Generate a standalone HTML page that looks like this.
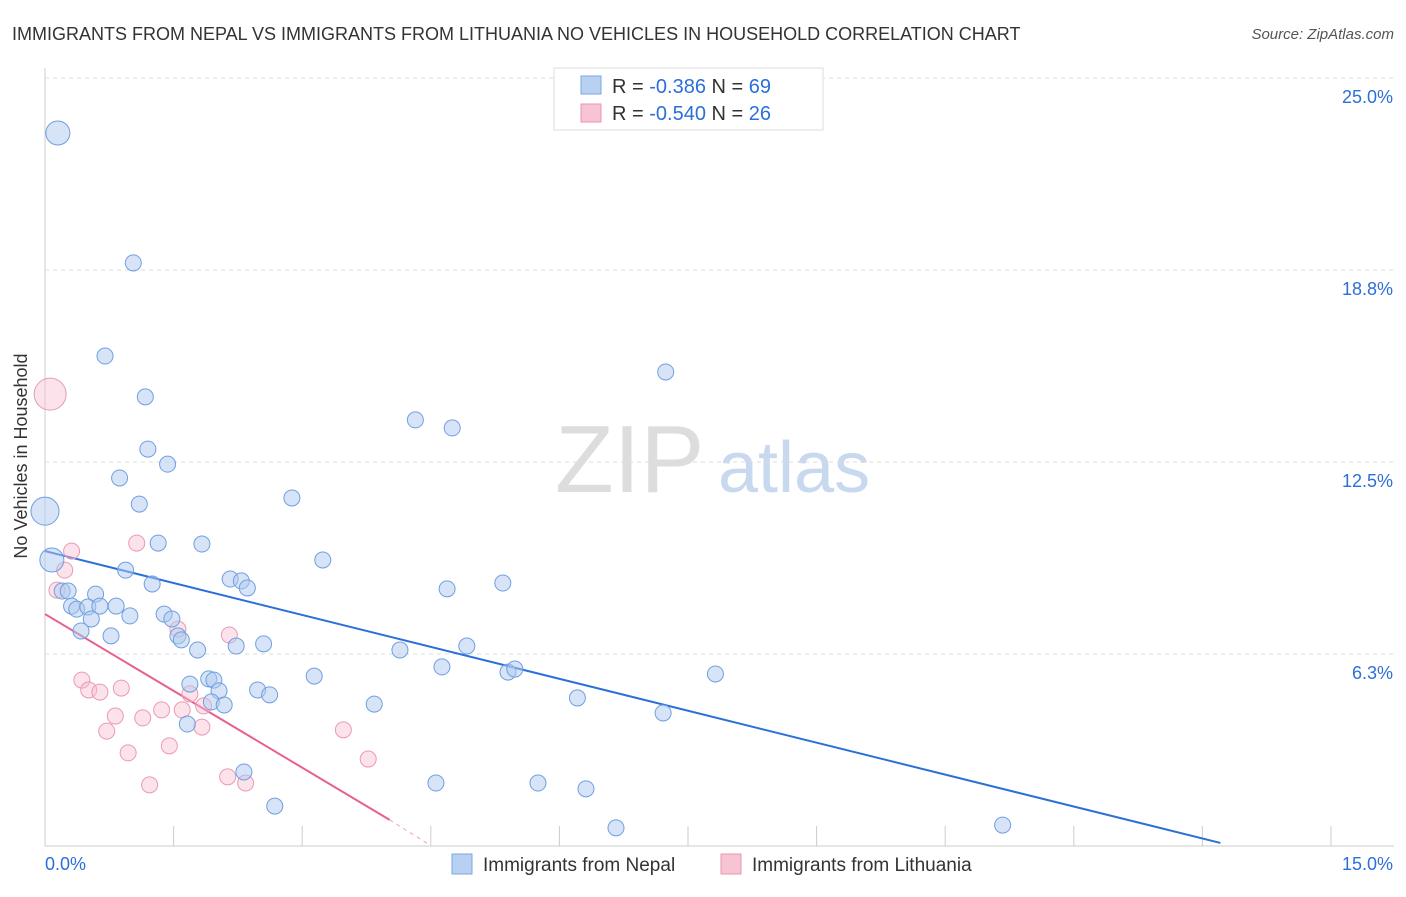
<!DOCTYPE html>
<html><head><meta charset="utf-8"><style>
body{margin:0;background:#fff;font-family:"Liberation Sans",sans-serif;}
svg text{font-family:"Liberation Sans",sans-serif;}
</style></head><body>
<svg id="c" width="1406" height="892">
<text x="12" y="40" font-size="18" fill="#333">IMMIGRANTS FROM NEPAL VS IMMIGRANTS FROM LITHUANIA NO VEHICLES IN HOUSEHOLD CORRELATION CHART</text>
<text x="1394" y="39" font-size="15" fill="#555" font-style="italic" text-anchor="end">Source: ZipAtlas.com</text>
<text x="27" y="456" font-size="18" fill="#333" transform="rotate(-90 27 456)" text-anchor="middle">No Vehicles in Household</text>
<g><text x="555" y="492" font-size="96" fill="#ddd" font-family="Liberation Serif">ZIP</text><text x="718" y="492" font-size="72" fill="#c8d8ee">atlas</text></g>
<g id="grid"></g><g id="ticks"></g><g id="lines"></g><g id="pts"></g>
<g>
<rect x="554" y="68" width="269" height="62" fill="#fff" stroke="#ddd"/>
<rect x="581" y="76" width="20" height="18" fill="#b8d0f2" stroke="#7ea6e0"/>
<rect x="581" y="104" width="20" height="18" fill="#f8c4d4" stroke="#e896b0"/>
<text x="612" y="93" font-size="20" fill="#333">R = <tspan fill="#2c6fd8">-0.386</tspan>   N = <tspan fill="#2c6fd8">69</tspan></text>
<text x="612" y="120" font-size="20" fill="#333">R = <tspan fill="#2c6fd8">-0.540</tspan>   N = <tspan fill="#2c6fd8">26</tspan></text>
</g>
<g>
<rect x="452" y="854" width="20" height="20" fill="#b8d0f2" stroke="#7ea6e0"/>
<text x="483" y="871" font-size="19" fill="#333">Immigrants from Nepal</text>
<rect x="721" y="854" width="20" height="20" fill="#f8c4d4" stroke="#e896b0"/>
<text x="752" y="871" font-size="19" fill="#333">Immigrants from Lithuania</text>
</g>
</svg>
<script>
const yTicks=[25,18.75,12.5,6.25];
const yTickLabels=["25.0%","18.8%","12.5%","6.3%"];
const nepalX=[0.15,1.03,0.70,1.17,1.20,1.43,0.87,1.10,0.0,1.32,1.83,2.88,0.94,1.25,2.16,2.29,2.36,3.24,0.08,0.20,0.27,0.59,0.31,0.37,0.50,0.64,0.83,0.54,0.99,1.39,1.48,0.42,0.77,1.55,1.59,1.78,2.23,2.55,4.32,4.75,7.24,4.69,5.34,4.14,4.92,4.63,5.40,5.48,7.82,3.14,1.69,1.91,1.97,2.03,2.48,2.62,1.94,2.09,3.84,6.21,7.21,1.66,2.32,4.56,5.75,6.31,2.68,6.66,11.17];
const nepalY=[23.21,18.98,15.95,14.62,12.92,12.43,11.98,11.13,10.90,9.86,9.83,11.33,8.98,8.53,8.69,8.63,8.40,9.31,9.31,8.30,8.30,8.20,7.81,7.71,7.78,7.81,7.81,7.39,7.49,7.55,7.39,7.00,6.84,6.84,6.71,6.38,6.51,6.58,13.87,13.61,15.43,8.37,8.56,6.38,6.51,5.83,5.66,5.76,5.60,5.53,5.27,5.44,5.40,5.05,5.08,4.92,4.69,4.59,4.62,4.82,4.33,3.97,2.41,2.05,2.05,1.86,1.30,0.59,0.68];
const nepalSize=[12,8,8,8,8,8,8,8,14,8,8,8,8,8,8,8,8,8,12,8,8,8,8,8,8,8,8,8,8,8,8,8,8,8,8,8,8,8,8,8,8,8,8,8,8,8,8,8,8,8,8,8,8,8,8,8,8,8,8,8,8,8,8,8,8,8,8,8,8];
const lithX=[0.06,0.31,1.07,0.23,0.14,0.43,0.51,0.64,0.89,0.82,0.72,1.14,1.36,1.60,1.55,1.69,1.85,1.83,2.15,1.45,0.97,1.22,2.13,2.34,3.48,3.77];
const lithY=[14.71,9.60,9.86,8.98,8.33,5.40,5.08,5.01,5.14,4.23,3.74,4.17,4.43,4.43,7.06,4.95,4.56,3.87,6.87,3.26,3.03,1.99,2.25,2.05,3.78,2.83];
const lithSize=[16,8,8,8,8,8,8,8,8,8,8,8,8,8,8,8,8,8,8,8,8,8,8,8,8,8];
const nepalTrend=[[0,9.6],[13.71,0.1]];
const lithTrend=[[0,7.55],[4.02,0.85]];
const lithTrendDash=[[4.02,0.85],[4.49,0.03]];
const NS="http://www.w3.org/2000/svg";
const X0=45,X1=1331,XMAX=15,YB=846,YT=78,YMAX=25;
const sx=v=>X0+(X1-X0)*v/XMAX, sy=v=>YB-(YB-YT)*v/YMAX;
function mk(t,a,p){const e=document.createElementNS(NS,t);for(const k in a)e.setAttribute(k,a[k]);document.getElementById(p).appendChild(e);return e;}
let ax=mk('line',{x1:X0,x2:X0,y1:68,y2:YB,stroke:'#ccc'},'grid');


let bx=mk('line',{x1:X0,x2:1394,y1:YB,y2:YB,stroke:'#ccc'},'grid');


yTicks.forEach((v,i)=>{
 let g=mk('line',{x1:X0,x2:1394,y1:sy(v),y2:sy(v),stroke:'#ddd','stroke-dasharray':'4,4'},'grid');
 
 
 let t=mk('text',{x:1393,y:sy(v)+25,'font-size':18,fill:'#2c6fd8','text-anchor':'end'},'ticks');
 t.textContent=yTickLabels[i];
 
 
});
for(let i=1;i<=10;i++){let v=i*1.5;
 let t=mk('line',{x1:sx(v),x2:sx(v),y1:826,y2:YB,stroke:'#ccc'},'ticks');
 
 }
let l0=mk('text',{x:45,y:870,'font-size':18,fill:'#2c6fd8'},'ticks');l0.textContent='0.0%';


let l1=mk('text',{x:1393,y:870,'font-size':18,fill:'#2c6fd8','text-anchor':'end'},'ticks');l1.textContent='15.0%';


function pts(xs,ys,ss,fill,stroke,name){xs.forEach((x,i)=>{
 let c=mk('circle',{cx:sx(x),cy:sy(ys[i]),r:ss[i],fill:fill,stroke:stroke,'stroke-width':1},'pts');
 
 });}
pts(lithX,lithY,lithSize,'rgba(248,190,208,0.45)','#e99ab4','point-lithuania');
pts(nepalX,nepalY,nepalSize,'rgba(176,202,240,0.5)','#6f9fe0','point-nepal');
function ln(p,col,w,name,dash){let l=mk('line',{x1:sx(p[0][0]),y1:sy(p[0][1]),x2:sx(p[1][0]),y2:sy(p[1][1]),stroke:col,'stroke-width':w},'lines');
 if(dash)l.setAttribute('stroke-dasharray',dash);
 
 }
ln(nepalTrend,'#2c6fd8',2,'trend-line-nepal');
ln(lithTrend,'#e8608e',2,'trend-line-lithuania');
ln(lithTrendDash,'#f0a0b8',1,'trend-line-lithuania-extension','4,4');
</script>
</body></html>
